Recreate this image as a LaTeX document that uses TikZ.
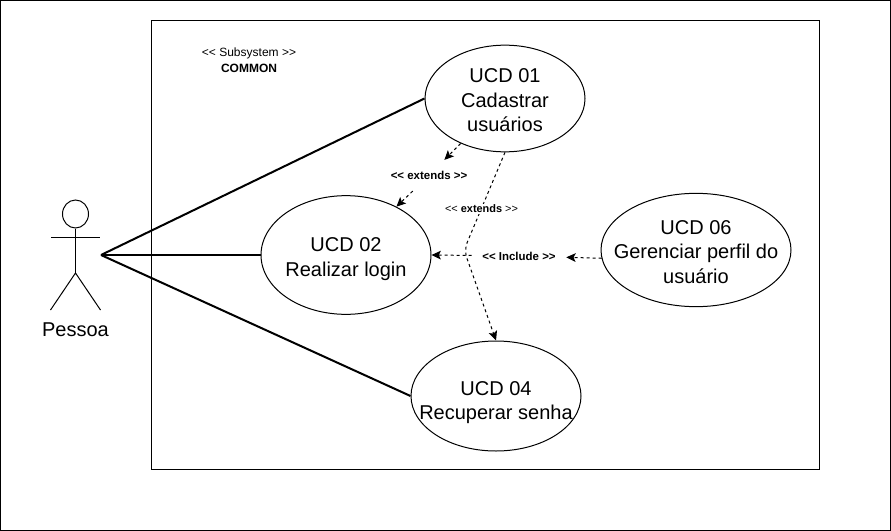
\documentclass[tikz,border=0pt]{standalone}
\usepackage{fontspec}
\setmainfont{Liberation Sans}
\usetikzlibrary{arrows.meta,calc,positioning,shapes.geometric}
\definecolor{UcdInk}{HTML}{000000}

\begin{document}
\begin{tikzpicture}[
    x=0.75pt,y=-0.75pt,
    font=\fontsize{15pt}{18.4pt}\selectfont,
    usecase/.style={draw=UcdInk,ellipse,line width=0.75pt,inner sep=0pt},
    ucdtext/.style={align=center,inner sep=0pt,yshift=-1.5pt},
    assoc/.style={line width=1.5pt,UcdInk},
    dep/.style={-{Stealth[length=7pt,width=6.5pt,inset=1.5pt]},line width=0.75pt,dash pattern=on 2.25pt off 2.25pt,UcdInk},
    deplabel/.style={font=\fontsize{8.6pt}{10pt}\selectfont\bfseries,inner xsep=0pt,inner ysep=0pt},
    limb/.style={line width=0.75pt,UcdInk}
  ]
    \useasboundingbox (0,0) rectangle (891,531);
    \draw[line width=0.75pt,UcdInk] (0.5,0.5) rectangle (890.5,530.5);
    \node[draw=UcdInk,line width=0.75pt,minimum width=501pt,minimum height=337pt,inner sep=0pt] (system) at (485.75,245.25) {};
    \node[align=center,font=\fontsize{9pt}{12pt}\selectfont] (title) at (249,60) {<{}< Subsystem >{}>\\\textbf{COMMON}};

    % use cases
    \node[usecase,minimum width=120pt,minimum height=80pt,label={[ucdtext]center:UCD 01\\Cadastrar\\usuários}] (ucd01) at (505,98.5) {};
    \node[usecase,minimum width=127.5pt,minimum height=89pt,label={[ucdtext,yshift=-1.5pt]center:UCD 02\\Realizar login}] (ucd02) at (346,255) {};
    \node[usecase,minimum width=142.5pt,minimum height=85pt,label={[ucdtext]center:UCD 06\\Gerenciar perfil do\\usuário}] (ucd06) at (696,250) {};
    \node[usecase,minimum width=127.5pt,minimum height=82.5pt,label={[ucdtext,yshift=-3.5pt]center:UCD 04\\Recuperar senha}] (ucd04) at (496,396) {};

    % actor
    \node[draw=UcdInk,ellipse,line width=0.75pt,minimum width=19.5pt,minimum height=21pt,inner sep=0pt] (head) at (75.5,214) {};
    \coordinate (handl) at (51,237);
    \coordinate (handr) at (100,237);
    \coordinate (hip) at (75.5,273);
    \coordinate (footl) at (50.5,310);
    \coordinate (footr) at (100.5,310);
    \coordinate (hand) at (101,255);
    \draw[limb] (head) -- (hip);
    \draw[limb] (handl) -- (handr);
    \draw[limb] (footl) -- (hip) -- (footr);
    \node (pessoa) at (75.5,330) {Pessoa};

    % associations
    \draw[assoc] (hand) -- (ucd01.west);
    \draw[assoc] (hand) -- (ucd02.west);
    \draw[assoc] (hand) -- (ucd04.west);

    % dependencies
    \node[deplabel,minimum height=23pt] (ext1) at (429,175.5) {<{}< extends >{}>};
    \node[deplabel,minimum width=70.5pt,minimum height=12pt] (incl) at (519,256) {<{}< Include >{}>};
    \draw[dep] (ucd01) -- (ext1);
    \draw[dep] (ext1) -- (ucd02);
    \draw[dep] (ucd06.185) -- (incl);
    \draw[dep] (incl) -- (ucd02.east);
    \coordinate (turn) at (464,250);
    \draw[dep,rounded corners=6pt] (ucd01.south) -- (turn) -- (ucd04.north);
    \node[deplabel,font=\fontsize{8.2pt}{10pt}\selectfont,fill=white,inner sep=1pt] (ext2) at (481.5,209) {<{}< \textbf{extends} >{}>};
\end{tikzpicture}
\end{document}
